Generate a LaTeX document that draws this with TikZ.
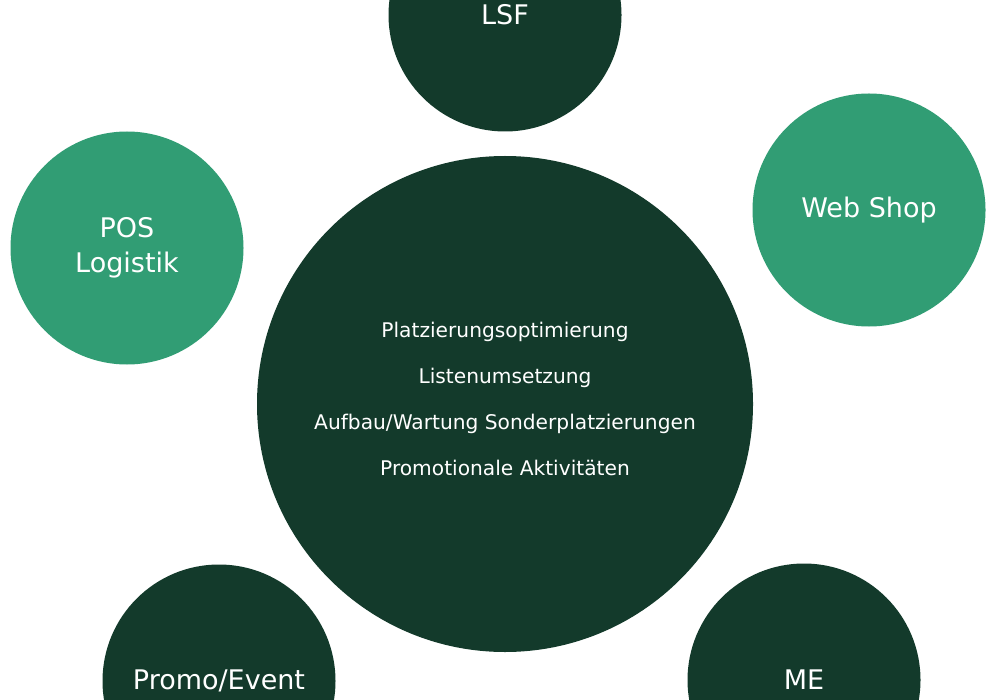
\documentclass[tikz,border=0pt]{standalone}
\usepackage{fontspec}
\setmainfont{DejaVu Sans}

\definecolor{dunkelgruen}{HTML}{133A2B}
\definecolor{hellgruen}{HTML}{319D74}

\tikzset{
	kreis/.style = {circle, inner sep = 0pt, text = white, align = center},
	klein/.style = {kreis, minimum size = 233pt, font = \fontsize{27}{35}\selectfont},
	gross/.style = {kreis, minimum size = 496pt}
}

\begin{document}
\begin{tikzpicture}[x = 1pt, y = -1pt]

	% Frame
	
	\useasboundingbox (0, 0) rectangle (1000, 700);
	\clip (0, 0) rectangle (1000, 700);

	% Outer circles
	
	\node [klein, fill = dunkelgruen] (lsf) at (505, 15) {LSF};
	\node [klein, fill = hellgruen] (webshop) at (869, 210) {Web Shop};
	\node [klein, fill = hellgruen] (pos) at (127, 248) {POS\\Logistik};
	\node [klein, fill = dunkelgruen] (promo) at (219, 681) {Promo/Event};
	\node [klein, fill = dunkelgruen] (me) at (804, 680) {ME};
	
	% Centre circle
	
	\node [gross, fill = dunkelgruen] (zentrum) at (505, 404) {};
	\node [kreis, font = \fontsize{20.2}{46}\selectfont] (aufgaben) at (505, 399)
		{Platzierungsoptimierung\\Listenumsetzung\\Aufbau/Wartung Sonderplatzierungen\\Promotionale Aktivitäten};

\end{tikzpicture}
\end{document}
